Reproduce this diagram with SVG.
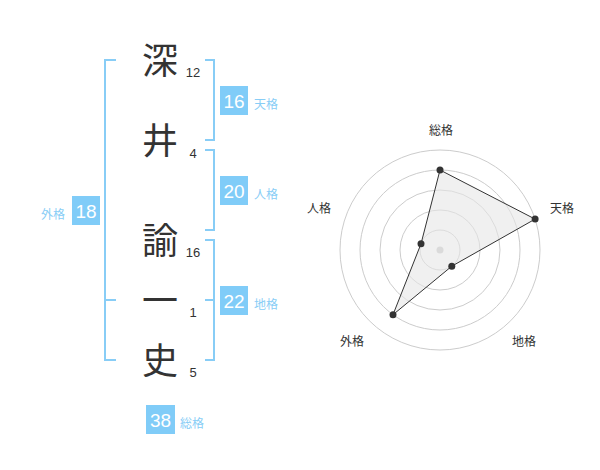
<svg xmlns="http://www.w3.org/2000/svg" width="600" height="470" viewBox="0 0 600 470">
<style>
.ch{font-family:"Noto Sans CJK JP","Noto Sans CJK SC",sans-serif;font-size:36px;fill:#333;text-anchor:middle}
.num{font-family:"Liberation Sans",Arial,sans-serif;font-size:13px;fill:#333;text-anchor:middle}
.br{fill:none;stroke:#88cdf6;stroke-width:2}
.bx{fill:#80ccf8}
.bn{font-family:"Liberation Sans",Arial,sans-serif;font-size:19px;fill:#fff;text-anchor:middle}
.bl{font-family:"Noto Sans CJK JP","Noto Sans CJK SC",sans-serif;font-size:12px;fill:#88cdf6}
.rl{font-family:"Noto Sans CJK JP","Noto Sans CJK SC",sans-serif;font-size:12px;fill:#333;text-anchor:middle}
.ring{fill:none;stroke:#cccccc;stroke-width:1}
</style>
<rect width="600" height="470" fill="#fff"/>
<g id="name">
<text class="ch" x="160" y="74">深</text>
<text class="num" x="193" y="77">12</text>
<text class="ch" x="160" y="154">井</text>
<text class="num" x="193" y="158">4</text>
<text class="ch" x="160" y="254">諭</text>
<text class="num" x="193" y="257">16</text>
<text class="ch" x="160" y="314">一</text>
<text class="num" x="193" y="317">1</text>
<text class="ch" x="160" y="374">史</text>
<text class="num" x="193" y="377">5</text>
</g>
<g id="connectors">
<path class="br" d="M116,60 H105 V360 H116 M105,300 H116"/>
<path class="br" d="M205,60 H214 V140 H205"/>
<path class="br" d="M205,150 H214 V230 H205"/>
<path class="br" d="M205,240 H214 V360 H205 M214,300 H205"/>
</g>
<g id="tenkaku">
<rect class="bx" x="220" y="86" width="28" height="29"/>
<text class="bn" x="234" y="107.5">16</text>
<text class="bl" x="254" y="108.5">天格</text>
</g>
<g id="jinkaku">
<rect class="bx" x="220" y="176" width="28" height="29"/>
<text class="bn" x="234" y="197.5">20</text>
<text class="bl" x="254" y="198.5">人格</text>
</g>
<g id="chikaku">
<rect class="bx" x="220" y="286" width="28" height="29"/>
<text class="bn" x="234" y="307.5">22</text>
<text class="bl" x="254" y="308.5">地格</text>
</g>
<g id="gaikaku">
<rect class="bx" x="72" y="196" width="28" height="29"/>
<text class="bn" x="86" y="217.5">18</text>
<text class="bl" x="41" y="218.5">外格</text>
</g>
<g id="soukaku">
<rect class="bx" x="146" y="405" width="29" height="29"/>
<text class="bn" x="160.5" y="426.5">38</text>
<text class="bl" x="180" y="427.5">総格</text>
</g>
<g id="radar">
<circle class="ring" cx="440" cy="250" r="20"/>
<circle class="ring" cx="440" cy="250" r="40"/>
<circle class="ring" cx="440" cy="250" r="60"/>
<circle class="ring" cx="440" cy="250" r="80"/>
<circle class="ring" cx="440" cy="250" r="100"/>
<circle cx="440" cy="250" r="3.5" fill="#c8c8c8"/>
<polygon points="440,170 535.1,219.1 451.8,266.2 393,314.7 421,243.8" fill="#e6e6e6" fill-opacity="0.6" stroke="#333" stroke-width="1"/>
<g fill="#333">
<circle cx="440" cy="170" r="3.5"/>
<circle cx="535.1" cy="219.1" r="3.5"/>
<circle cx="451.8" cy="266.2" r="3.5"/>
<circle cx="393" cy="314.7" r="3.5"/>
<circle cx="421" cy="243.8" r="3.5"/>
</g>
<text class="rl" x="441" y="135">総格</text>
<text class="rl" x="562" y="213">天格</text>
<text class="rl" x="319" y="213">人格</text>
<text class="rl" x="352" y="346">外格</text>
<text class="rl" x="524" y="346">地格</text>
</g>
</svg>
